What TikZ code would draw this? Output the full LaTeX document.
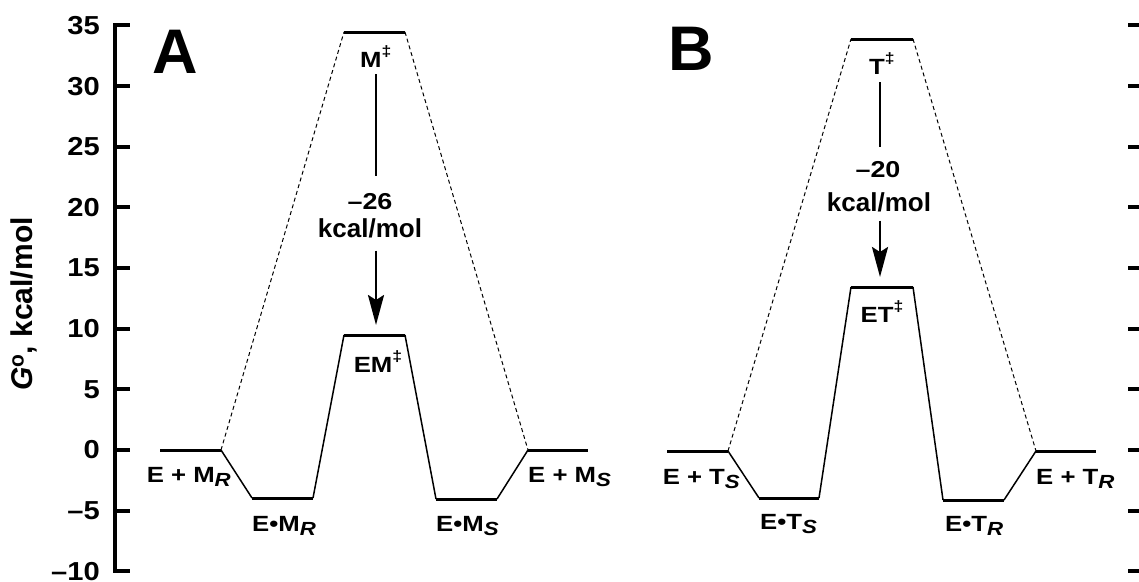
\documentclass[tikz,border=0pt]{standalone}
\usepackage{fontspec}
\setmainfont{Liberation Sans}
\newfontfamily\lblfont{Liberation Sans}[FakeStretch=1.17]
\newfontfamily\tickfont{Liberation Sans}[FakeStretch=1.12]
\usetikzlibrary{arrows.meta}
\tikzset{
  lvl/.style={line width=3pt},
  conn/.style={line width=1.5pt},
  dashconn/.style={line width=1pt, dash pattern=on 4pt off 3pt},
  axisline/.style={line width=4pt},
  tickline/.style={line width=4pt},
  ticklbl/.style={anchor=east, font=\tickfont\fontsize{26}{30}\selectfont\bfseries, inner sep=0pt},
  lbl/.style={font=\lblfont\fontsize{22}{26}\selectfont\bfseries, inner sep=0pt},
  numlbl/.style={font=\lblfont\fontsize{23}{26}\selectfont\bfseries, inner sep=0pt},
  unitlbl/.style={font=\fontsize{26}{30}\selectfont\bfseries, inner sep=0pt},
  biglbl/.style={font=\fontsize{63}{70}\selectfont\bfseries, inner sep=0pt, anchor=base},
  shaft/.style={line width=2.5pt},
  arr/.style={line width=2.5pt, -{Stealth[length=30pt,width=16pt,inset=5pt]}},
}
\newcommand{\ddg}{\raisebox{11pt}{\fontsize{15}{15}\selectfont ‡}}
\newcommand{\lsub}[1]{\raisebox{-4.5pt}{\fontsize{19}{20}\selectfont\itshape #1}}
\begin{document}
\begin{tikzpicture}[x=1pt,y=-1pt]
\useasboundingbox (0,0) rectangle (1139,581);
% ---------- left axis ----------
\coordinate (axtop) at (115,25);
\coordinate (axbot) at (115,571);
\draw[axisline] (axtop) -- (axbot);
\foreach \v/\t in {35/35,30/30,25/25,20/20,15/15,10/10,5/5,0/0,-5/\textendash5,-10/\textendash10}{
  \pgfmathsetmacro{\yy}{450-\v*12.13}
  \coordinate (tk\v) at (115,\yy);
  \draw[tickline] (113,\yy) -- (130,\yy);
  \node[ticklbl] (tl\v) at (100,\yy) {\t};
  \draw[tickline] (1128,\yy) -- (1139,\yy);
}
\node[rotate=90, font=\fontsize{30}{34}\selectfont\bfseries, inner sep=0pt] (ylab) at (24,304) {\textit{G}\textsuperscript{o}, kcal/mol};
% ---------- panel letters ----------
\node[biglbl] (pA) at (175,73) {A};
\node[biglbl] (pB) at (691,70) {B};
% ---------- panel A ----------
\coordinate (a1l) at (160,450); \coordinate (a1r) at (221,450);
\coordinate (a2l) at (252,498); \coordinate (a2r) at (313,498);
\coordinate (a3l) at (344,335); \coordinate (a3r) at (405,335);
\coordinate (a4l) at (436,499); \coordinate (a4r) at (497,499);
\coordinate (a5l) at (528,450); \coordinate (a5r) at (588,450);
\coordinate (atl) at (344,32);  \coordinate (atr) at (405,32);
\coordinate (a3m) at (376,335);
\draw[lvl] (a1l) -- (a1r);
\draw[lvl] (a2l) -- (a2r);
\draw[lvl] (a3l) -- (a3r);
\draw[lvl] (a4l) -- (a4r);
\draw[lvl] (a5l) -- (a5r);
\draw[lvl] (atl) -- (atr);
\draw[conn] (a1r) -- (a2l);
\draw[conn] (a2r) -- (a3l);
\draw[conn] (a3r) -- (a4l);
\draw[conn] (a4r) -- (a5l);
\draw[dashconn] (a1r) -- (atl);
\draw[dashconn] (atr) -- (a5l);
\node[lbl, anchor=base east] (la1) at (231,482) {E + M\lsub{R}};
\node[lbl, anchor=base west] (la2) at (252,531) {E•M\lsub{R}};
\node[lbl, anchor=base] (la3) at (378,372) {EM\ddg};
\node[lbl, anchor=base west] (la4) at (436,531) {E•M\lsub{S}};
\node[lbl, anchor=base west] (la5) at (528,482) {E + M\lsub{S}};
\node[lbl, anchor=base west] (lat) at (360,67) {M\ddg};
\node[numlbl, anchor=base] (anum) at (370,209) {\textendash26};
\node[unitlbl, anchor=base] (akc) at (370,237) {kcal/mol};
\draw[shaft, shorten <=7pt, shorten >=17pt] (lat.south -| a3m) -- (anum.north -| a3m);
\draw[arr, shorten <=13pt, shorten >=10pt] (akc.south -| a3m) -- (a3m);
% ---------- panel B ----------
\coordinate (b1l) at (667,451); \coordinate (b1r) at (728,451);
\coordinate (b2l) at (759,498); \coordinate (b2r) at (819,498);
\coordinate (b3l) at (851,287); \coordinate (b3r) at (913,287);
\coordinate (b4l) at (943,500); \coordinate (b4r) at (1004,500);
\coordinate (b5l) at (1036,451); \coordinate (b5r) at (1096,451);
\coordinate (btl) at (851,39);  \coordinate (btr) at (913,39);
\coordinate (b3m) at (880,287);
\draw[lvl] (b1l) -- (b1r);
\draw[lvl] (b2l) -- (b2r);
\draw[lvl] (b3l) -- (b3r);
\draw[lvl] (b4l) -- (b4r);
\draw[lvl] (b5l) -- (b5r);
\draw[lvl] (btl) -- (btr);
\draw[conn] (b1r) -- (b2l);
\draw[conn] (b2r) -- (b3l);
\draw[conn] (b3r) -- (b4l);
\draw[conn] (b4r) -- (b5l);
\draw[dashconn] (b1r) -- (btl);
\draw[dashconn] (btr) -- (b5l);
\node[lbl, anchor=base east] (lb1) at (740,484) {E + T\lsub{S}};
\node[lbl, anchor=base west] (lb2) at (760,529) {E•T\lsub{S}};
\node[lbl, anchor=base] (lb3) at (882,322) {ET\ddg};
\node[lbl, anchor=base west] (lb4) at (945,531) {E•T\lsub{R}};
\node[lbl, anchor=base west] (lb5) at (1036,484) {E + T\lsub{R}};
\node[lbl, anchor=base west] (lbt) at (869,74) {T\ddg};
\node[numlbl, anchor=base] (bnum) at (878,177) {\textendash20};
\node[unitlbl, anchor=base] (bkc) at (879,211) {kcal/mol};
\draw[shaft, shorten <=8pt, shorten >=14pt] (lbt.south -| b3m) -- (bnum.north -| b3m);
\draw[arr, shorten <=9pt, shorten >=10pt] (bkc.south -| b3m) -- (b3m);
\end{tikzpicture}
\end{document}
